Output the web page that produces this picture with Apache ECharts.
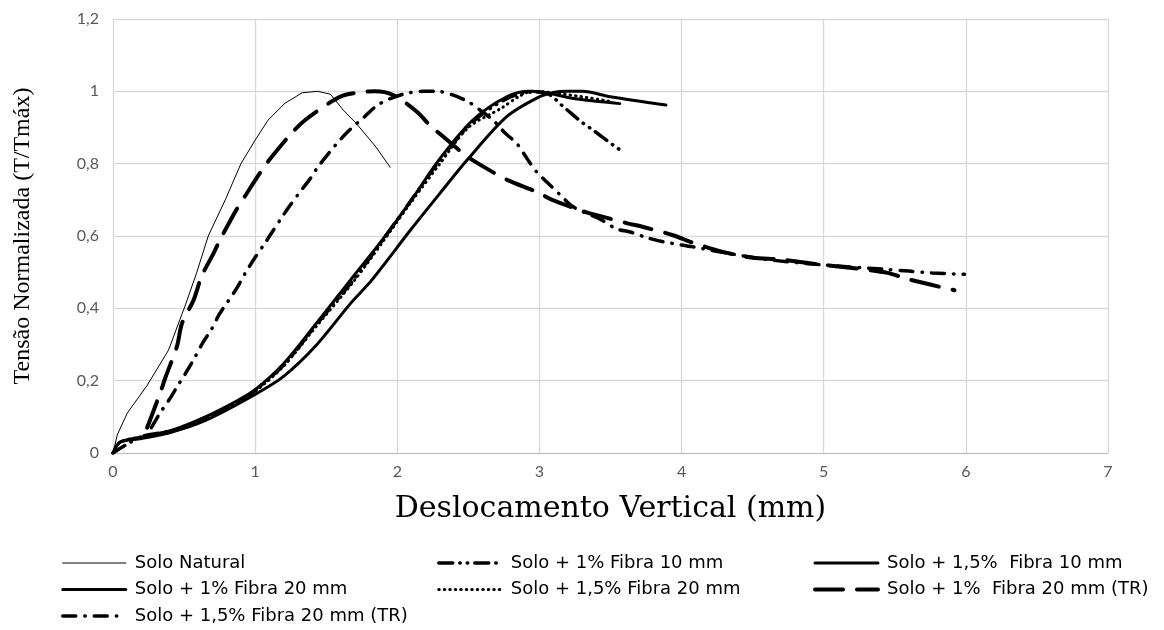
<!DOCTYPE html>
<html>
<head>
<meta charset="utf-8">
<script src="https://cdn.jsdelivr.net/npm/echarts@6/dist/echarts.min.js"></script>
<style>
  html, body { margin: 0; padding: 0; background: #fff; }
  #chart { width: 1164px; height: 630px; }
</style>
</head>
<body>
<div id="chart"></div>
<script>
var chart = echarts.init(document.getElementById("chart"));

// valores: [deslocamento (mm), T/Tmáx]
var soloNatural = [[0,0],[0.03,0.05],[0.1,0.11],[0.24,0.187],[0.39,0.284],[0.51,0.41],[0.59,0.5],[0.67,0.6],[0.79,0.7],[0.9,0.8],[1.0,0.865],[1.09,0.92],[1.21,0.967],[1.33,0.996],[1.44,1.0],[1.53,0.992],[1.62,0.948],[1.71,0.912],[1.85,0.846],[1.95,0.79]];
var fibra10_1 = [[0,0],[0.2,0.045],[0.42,0.062],[0.65,0.098],[0.9,0.145],[1.2,0.243],[1.43,0.355],[1.69,0.478],[1.9,0.59],[2.1,0.7],[2.3,0.81],[2.53,0.915],[2.77,0.98],[2.95,0.998],[3.05,0.995],[3.17,0.957],[3.23,0.937],[3.3,0.914],[3.38,0.892],[3.52,0.851],[3.59,0.832]];
var fibra10_15 = [[0,0],[0.05,0.03],[0.2,0.04],[0.415,0.058],[0.65,0.09],[0.99,0.16],[1.2,0.212],[1.43,0.298],[1.67,0.413],[1.82,0.478],[2.1,0.62],[2.3,0.718],[2.5,0.814],[2.77,0.93],[3.0,0.985],[3.1,0.997],[3.2,1.0],[3.3,1.0],[3.5,0.985],[3.89,0.962]];
var fibra20_1 = [[0,0],[0.05,0.03],[0.2,0.044],[0.415,0.063],[0.65,0.1],[0.88,0.146],[1.0,0.175],[1.2,0.247],[1.43,0.358],[1.67,0.478],[1.9,0.592],[2.1,0.7],[2.3,0.814],[2.53,0.92],[2.77,0.985],[2.93,1.0],[3.05,0.996],[3.24,0.98],[3.565,0.966]];
var fibra20_15 = [[0,0],[0.05,0.03],[0.2,0.045],[0.42,0.062],[0.65,0.097],[0.9,0.145],[1.0,0.17],[1.2,0.24],[1.43,0.35],[1.7,0.478],[1.9,0.585],[2.1,0.695],[2.3,0.8],[2.5,0.9],[2.73,0.953],[2.86,0.987],[2.95,1.0],[3.05,0.998],[3.3,0.985],[3.5,0.972]];
var fibra20_1TR = [[0.24,0.07],[0.33,0.164],[0.37,0.21],[0.45,0.295],[0.485,0.358],[0.566,0.422],[0.625,0.49],[0.707,0.552],[0.754,0.59],[0.86,0.667],[0.925,0.708],[1.047,0.782],[1.117,0.819],[1.258,0.885],[1.35,0.92],[1.53,0.97],[1.63,0.99],[1.84,1.0],[1.97,0.99],[2.14,0.943],[2.23,0.906],[2.38,0.856],[2.49,0.82],[2.67,0.777],[2.78,0.754],[2.98,0.722],[3.09,0.7],[3.32,0.667],[3.41,0.657],[3.62,0.635],[3.73,0.625],[3.94,0.602],[4.06,0.584],[4.29,0.556],[4.5,0.54],[4.7,0.535],[5.0,0.52],[5.3,0.507],[5.45,0.498],[5.6,0.48],[5.92,0.45]];
var fibra20_15TR = [[0.27,0.07],[0.33,0.11],[0.396,0.148],[0.457,0.187],[0.51,0.22],[0.574,0.263],[0.63,0.304],[0.69,0.34],[0.747,0.383],[0.81,0.42],[0.87,0.455],[0.93,0.497],[0.995,0.538],[1.06,0.575],[1.12,0.611],[1.19,0.653],[1.246,0.685],[1.316,0.722],[1.39,0.76],[1.44,0.79],[1.52,0.83],[1.6,0.867],[1.67,0.895],[1.77,0.93],[1.855,0.96],[1.95,0.98],[2.06,0.994],[2.18,1.0],[2.28,1.0],[2.39,0.99],[2.5,0.971],[2.6,0.943],[2.68,0.918],[2.76,0.884],[2.84,0.856],[2.91,0.816],[2.98,0.777],[3.05,0.75],[3.14,0.716],[3.24,0.68],[3.44,0.644],[3.54,0.62],[3.64,0.611],[3.75,0.596],[3.87,0.584],[4.08,0.57],[4.3,0.554],[4.6,0.535],[5.0,0.52],[5.43,0.508],[5.6,0.503],[5.76,0.498],[5.99,0.494]];

var names = [
    "Solo Natural",
    "Solo + 1% Fibra 10 mm",
    "Solo + 1,5%  Fibra 10 mm",
    "Solo + 1% Fibra 20 mm",
    "Solo + 1,5% Fibra 20 mm",
    "Solo + 1%  Fibra 20 mm (TR)",
    "Solo + 1,5% Fibra 20 mm (TR)"
];

function serie(name, data, width, type, smooth) {
    return {
        name: name,
        type: "line",
        data: data,
        showSymbol: false,
        symbol: "none",
        smooth: smooth,
        lineStyle: { color: "#000", width: width, type: type, cap: "round" },
        itemStyle: { color: "#000" }
    };
}

function legenda(left, items) {
    return {
        data: items,
        left: left,
        top: 554,
        orient: "vertical",
        itemWidth: 63,
        itemHeight: 12,
        itemGap: 8.5,
        padding: 0,
        itemStyle: { opacity: 0 },
        lineStyle: { width: "inherit" },
        textStyle: { fontFamily: "DejaVu Sans", fontSize: 18, color: "#000", padding: [0, 0, 0, 4] }
    };
}

var option = {
    animation: false,
    backgroundColor: "#fff",
    grid: { left: 113, top: 19, width: 995, height: 434 },
    legend: [
        legenda(61, [names[0], names[3], names[6]]),
        legenda(437, [names[1], names[4]]),
        legenda(813, [names[2], names[5]])
    ],
    xAxis: {
        type: "value",
        min: 0, max: 7, interval: 1,
        name: "Deslocamento Vertical (mm)",
        nameLocation: "middle",
        nameGap: 41,
        nameTextStyle: { fontFamily: "DejaVu Serif", fontSize: 30, color: "#000" },
        axisLine: { lineStyle: { color: "#bfbfbf" } },
        axisTick: { show: false },
        axisLabel: { color: "#595959", fontFamily: "Lato", fontSize: 16, margin: 11 },
        splitLine: { lineStyle: { color: "#d9d9d9", width: 1.3 } }
    },
    yAxis: {
        type: "value",
        min: 0, max: 1.2, interval: 0.2,
        name: "Tensão Normalizada (T/Tmáx)",
        nameLocation: "middle",
        nameGap: 78,
        nameTextStyle: { fontFamily: "Liberation Serif", fontSize: 24, color: "#000" },
        axisLine: { show: false },
        axisTick: { show: false },
        axisLabel: {
            color: "#595959", fontFamily: "Lato", fontSize: 16, margin: 14,
            formatter: function (v) { return String(Math.round(v * 10) / 10).replace(".", ","); }
        },
        splitLine: { lineStyle: { color: "#d9d9d9", width: 1.3 } }
    },
    series: [
        serie(names[0], soloNatural, 1, "solid", false),
        serie(names[1], fibra10_1, 3.5, [14, 7, 0.5, 7, 0.5, 7], 0.3),
        serie(names[2], fibra10_15, 3, "solid", 0.3),
        serie(names[3], fibra20_1, 3, "solid", 0.3),
        serie(names[4], fibra20_15, 3, [0.5, 5], 0.3),
        serie(names[5], fibra20_1TR, 4, [28, 14], 0.3),
        serie(names[6], fibra20_15TR, 3.5, [13, 9, 0.5, 9], 0.3)
    ]
};

chart.setOption(option);
</script>
</body>
</html>
